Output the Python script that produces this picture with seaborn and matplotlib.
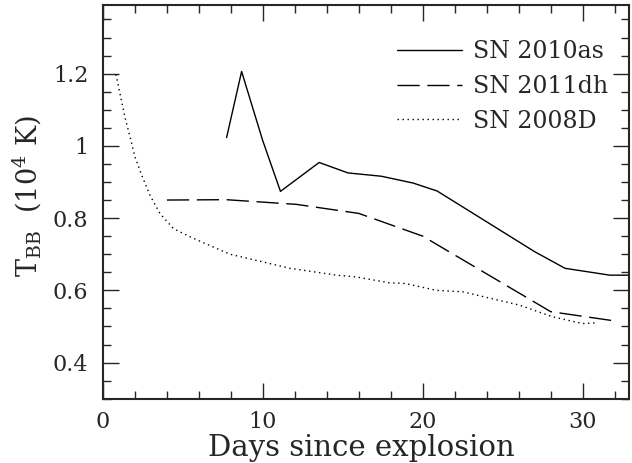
import matplotlib
matplotlib.use("Agg")
import matplotlib.pyplot as plt
from matplotlib.ticker import MultipleLocator
import seaborn as sns
import pandas as pd

# ---- data ----
sn2010as_days = [7.73, 8.67, 9.98, 11.1, 13.52, 15.33, 17.4, 19.4, 20.9, 27.0, 28.9, 31.7, 32.9]
sn2010as_T = [1.023, 1.206, 1.016, 0.874, 0.954, 0.925, 0.916, 0.897, 0.875, 0.707, 0.661, 0.642, 0.642]

sn2011dh_days = [4.0, 7.7, 12.1, 16.0, 20.0, 28.0, 31.9]
sn2011dh_T = [0.850, 0.851, 0.838, 0.813, 0.750, 0.541, 0.516]

sn2008D_days = [0.81, 1.06, 1.37, 1.69, 2.0, 2.42, 2.94, 3.56, 4.4, 5.5, 7.94, 11.7,
                14.6, 15.85, 17.9, 18.9, 20.86, 22.5, 26.06, 28.1, 30.0, 30.9]
sn2008D_T = [1.198, 1.145, 1.08, 1.025, 0.969, 0.919, 0.863, 0.813, 0.771, 0.747, 0.700, 0.661,
             0.642, 0.637, 0.621, 0.619, 0.600, 0.596, 0.559, 0.527, 0.508, 0.510]

labels = ["SN 2010as", "SN 2011dh", "SN 2008D"]
xlabel = "Days since explosion"
ylabel = r"$\mathregular{T_{BB}}$  (10$^{4}$ K)"
ytick_vals = [0.4, 0.6, 0.8, 1.0, 1.2]
ytick_labels = ["0.4", "0.6", "0.8", "1", "1.2"]

frames = []
for lab, d, t in zip(labels, [sn2010as_days, sn2011dh_days, sn2008D_days],
                     [sn2010as_T, sn2011dh_T, sn2008D_T]):
    frames.append(pd.DataFrame({"day": d, "T": t, "sn": lab}))
df = pd.concat(frames, ignore_index=True)

sns.set_style("ticks")
plt.rcParams["font.family"] = ["DejaVu Serif"]
plt.rcParams["mathtext.default"] = "regular"

fig = plt.figure(figsize=(6.32, 4.63), dpi=100)
ax = fig.add_axes([103 / 632, 1 - 398.7 / 463, (629 - 103) / 632, (398.7 - 5) / 463])

sns.lineplot(data=df, x="day", y="T", style="sn", style_order=labels,
             dashes={"SN 2010as": "", "SN 2011dh": (16, 5.5), "SN 2008D": (1.0, 2.6)},
             color="black", linewidth=1.0, sort=False, estimator=None, ax=ax)

ax.set_xlim(0, 32.9)
ax.set_ylim(0.3, 1.39)
ax.xaxis.set_major_locator(MultipleLocator(10))
ax.xaxis.set_minor_locator(MultipleLocator(2))
ax.yaxis.set_minor_locator(MultipleLocator(0.05))
ax.set_yticks(ytick_vals)
ax.set_yticklabels(ytick_labels)
ax.tick_params(which="both", direction="in", top=True, right=True, width=1.0, labelsize=16)
ax.tick_params(which="major", length=11.5)
ax.tick_params(axis="y", which="major", pad=10.5)
ax.tick_params(axis="x", which="major", pad=8.5)
ax.tick_params(which="minor", length=6)
for s in ax.spines.values():
    s.set_linewidth(1.5)

ax.set_xlabel(xlabel, fontsize=21)
ax.set_ylabel(ylabel, fontsize=19.5)
ax.xaxis.set_label_coords(0.492, -0.089)
ax.yaxis.set_label_coords(-0.112, 0.515)

handles, labs = ax.get_legend_handles_labels()
ax.legend(handles, labs, loc="upper right", frameon=False, fontsize=17,
          handlelength=2.75, handletextpad=0.5, labelspacing=0.5,
          bbox_to_anchor=(0.979, 0.935), borderaxespad=0)

fig.savefig("out.png", dpi=100)
